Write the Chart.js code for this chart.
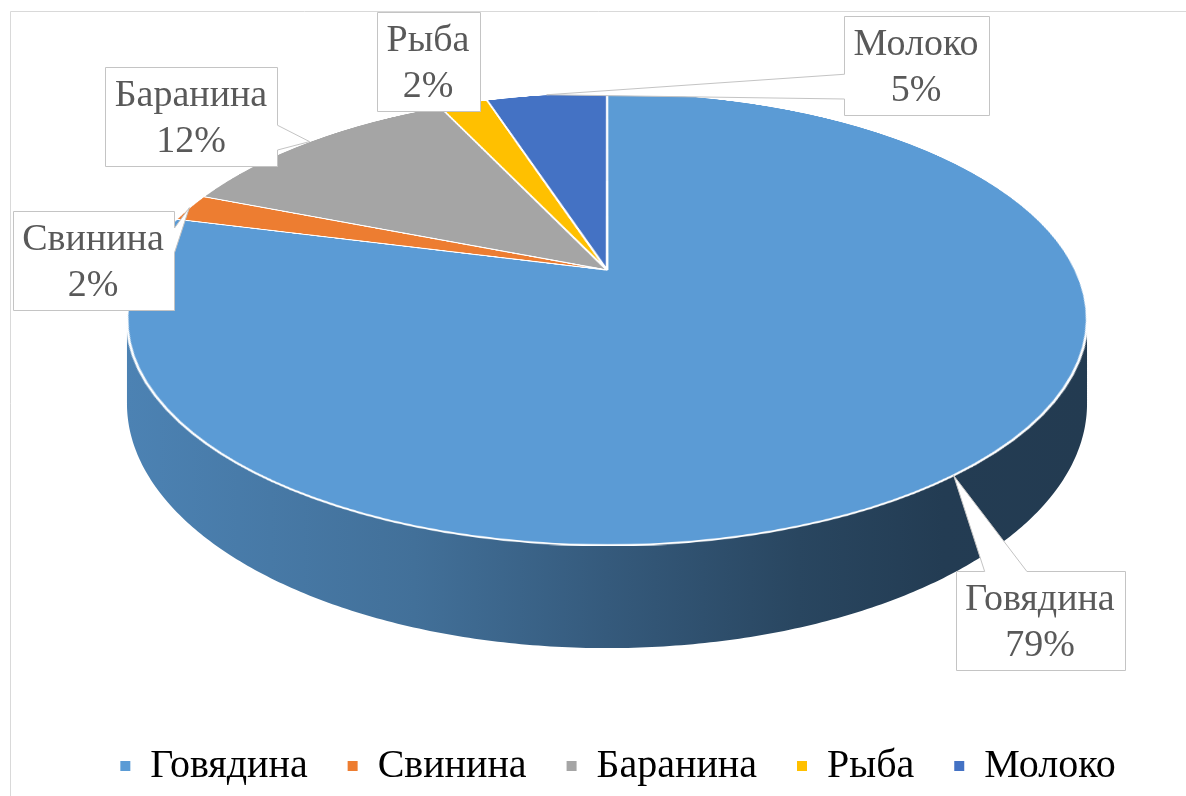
<!DOCTYPE html>
<html>
<head>
<meta charset="utf-8">
<script src="https://cdn.jsdelivr.net/npm/chart.js@4.4.0/dist/chart.umd.min.js"></script>
<style>
  html, body { margin: 0; padding: 0; background: #fff; }
  canvas { display: block; }
</style>
</head>
<body>
<canvas id="meatPie" width="1186" height="796"></canvas>
<script>
// Shares of the product groups, %
const categories = ['Говядина', 'Свинина', 'Баранина', 'Рыба', 'Молоко'];
const shares = [79, 2, 12, 2, 5];
const sliceColors = ['#5B9BD5', '#ED7D31', '#A5A5A5', '#FFC000', '#4472C4'];

// How the flat pie is laid onto the tilted disc (screen px)
const disc = { cx: 607, cy: 270, rx: 468.6, ry: 215.4, tilt: 0.2169, depth: 80.7 };
// Centres of the callout boxes
const calloutCentres = [[1040, 620], [93, 260], [191, 116], [428, 61], [916, 65]];

const SERIF = "'Liberation Serif', 'Times New Roman', serif";
const TEXT_COLOR = '#595959';

function project(c, s) {
  const w = 1 - disc.tilt * s;
  return [disc.cx + disc.rx * c / w, disc.cy + disc.ry * s / w];
}

function shade(hex, f) {
  const n = parseInt(hex.slice(1), 16);
  const r = Math.round(((n >> 16) & 255) * f);
  const g = Math.round(((n >> 8) & 255) * f);
  const b = Math.round((n & 255) * f);
  return `rgb(${r},${g},${b})`;
}

// Side wall of the disc under the visible front edge
function drawWalls(ctx, arcs) {
  const t = disc.tilt;
  const a0 = Math.asin(t), a1 = Math.PI - Math.asin(t);
  const half = disc.rx / Math.sqrt(1 - t * t);
  arcs.forEach((arc, i) => {
    for (let k = -1; k <= 1; k++) {
      const lo = Math.max(arc.startAngle + 2 * Math.PI * k, a0);
      const hi = Math.min(arc.endAngle + 2 * Math.PI * k, a1);
      if (hi <= lo) continue;
      const steps = Math.max(2, Math.ceil((hi - lo) / 0.01));
      ctx.beginPath();
      for (let j = 0; j <= steps; j++) {
        const a = lo + (hi - lo) * j / steps;
        const [x, y] = project(Math.cos(a), Math.sin(a));
        j === 0 ? ctx.moveTo(x, y) : ctx.lineTo(x, y);
      }
      for (let j = steps; j >= 0; j--) {
        const a = lo + (hi - lo) * j / steps;
        const [x, y] = project(Math.cos(a), Math.sin(a));
        const w = 1 - t * Math.sin(a);
        ctx.lineTo(x, y + disc.depth / w);
      }
      ctx.closePath();
      const grad = ctx.createLinearGradient(disc.cx - half, 0, disc.cx + half, 0);
      const base = sliceColors[i];
      grad.addColorStop(0, shade(base, 0.84));
      grad.addColorStop(0.3, shade(base, 0.72));
      grad.addColorStop(0.5, shade(base, 0.58));
      grad.addColorStop(0.7, shade(base, 0.45));
      grad.addColorStop(0.85, shade(base, 0.39));
      grad.addColorStop(1, shade(base, 0.38));
      ctx.fillStyle = grad;
      ctx.fill();
    }
  });
}

// Flat pie drawn by the arc elements, then squeezed row by row onto the disc
function drawTopFace(ctx, arcs) {
  const R = arcs[0].outerRadius;
  const size = Math.ceil(2 * R + 8);
  const off = document.createElement('canvas');
  off.width = size;
  off.height = size;
  const o = off.getContext('2d');
  o.translate(size / 2 - arcs[0].x, size / 2 - arcs[0].y);
  arcs.forEach(a => a.draw(o));

  const t = disc.tilt;
  const inv = y => { const q = (y - disc.cy) / disc.ry; return q / (1 + t * q); };
  const top = Math.floor(disc.cy - disc.ry / (1 + t));
  const bottom = Math.ceil(disc.cy + disc.ry / (1 - t));
  for (let y = top; y < bottom; y++) {
    const s0 = Math.max(-1, inv(y)), s1 = Math.min(1, inv(y + 1));
    if (s1 <= s0) continue;
    const v0 = size / 2 + s0 * R, v1 = size / 2 + s1 * R;
    const w = 1 - t * inv(y + 0.5);
    const k = (disc.rx / R) / w;
    ctx.drawImage(off, 0, v0, size, v1 - v0, disc.cx - size / 2 * k, y, size * k, 1);
  }
}

function calloutPath(ctx, x0, y0, x1, y1, ax, ay) {
  const w = x1 - x0, h = y1 - y0, mx = (x0 + x1) / 2, my = (y0 + y1) / 2;
  let side = null;
  if (!(ax >= x0 && ax <= x1 && ay >= y0 && ay <= y1)) {
    const dx = (ax - mx) / w, dy = (ay - my) / h;
    side = Math.abs(dx) > Math.abs(dy) ? (dx > 0 ? 'right' : 'left') : (dy > 0 ? 'bottom' : 'top');
  }
  ctx.beginPath();
  ctx.moveTo(x0, y0);
  if (side === 'top') {
    const p = ax < mx ? [2, 5] : [7, 10];
    ctx.lineTo(x0 + w * p[0] / 12, y0); ctx.lineTo(ax, ay); ctx.lineTo(x0 + w * p[1] / 12, y0);
  }
  ctx.lineTo(x1, y0);
  if (side === 'right') {
    const p = ay < my ? [2, 5] : [7, 10];
    ctx.lineTo(x1, y0 + h * p[0] / 12); ctx.lineTo(ax, ay); ctx.lineTo(x1, y0 + h * p[1] / 12);
  }
  ctx.lineTo(x1, y1);
  if (side === 'bottom') {
    const p = ax > mx ? [10, 7] : [5, 2];
    ctx.lineTo(x0 + w * p[0] / 12, y1); ctx.lineTo(ax, ay); ctx.lineTo(x0 + w * p[1] / 12, y1);
  }
  ctx.lineTo(x0, y1);
  if (side === 'left') {
    const p = ay > my ? [10, 7] : [5, 2];
    ctx.lineTo(x0, y0 + h * p[0] / 12); ctx.lineTo(ax, ay); ctx.lineTo(x0, y0 + h * p[1] / 12);
  }
  ctx.closePath();
}

function drawCallouts(ctx, arcs) {
  const total = shares.reduce((a, b) => a + b, 0);
  ctx.save();
  ctx.font = `38px ${SERIF}`;
  arcs.forEach((arc, i) => {
    const mid = (arc.startAngle + arc.endAngle) / 2;
    const [ax, ay] = project(Math.cos(mid), Math.sin(mid));
    const pct = Math.round(shares[i] / total * 100) + '%';
    const tw = Math.max(ctx.measureText(categories[i]).width, ctx.measureText(pct).width);
    const [cx, cy] = calloutCentres[i];
    const bw = Math.round(tw + 20), bh = 99;
    const x0 = Math.round(cx - bw / 2) + 0.5, y0 = Math.round(cy - bh / 2) + 0.5;
    calloutPath(ctx, x0, y0, x0 + bw, y0 + bh, ax, ay);
    ctx.fillStyle = '#fff';
    ctx.fill();
    ctx.strokeStyle = '#c4c4c4';
    ctx.lineWidth = 1;
    ctx.stroke();
    ctx.fillStyle = TEXT_COLOR;
    ctx.textAlign = 'center';
    ctx.textBaseline = 'alphabetic';
    ctx.fillText(categories[i], cx, cy - 10);
    ctx.fillText(pct, cx, cy + 36);
  });
  ctx.restore();
}

const tiltedPie = {
  id: 'tiltedPie',
  beforeDraw(chart) {
    const ctx = chart.ctx;
    ctx.save();
    ctx.fillStyle = '#fff';
    ctx.fillRect(0, 0, chart.width, chart.height);
    ctx.strokeStyle = '#d9d9d9';
    ctx.lineWidth = 1;
    ctx.beginPath();
    ctx.moveTo(10.5, chart.height);
    ctx.lineTo(10.5, 11.5);
    ctx.lineTo(chart.width, 11.5);
    ctx.stroke();
    ctx.restore();
  },
  beforeDatasetsDraw(chart) {
    const arcs = chart.getDatasetMeta(0).data;
    const ctx = chart.ctx;
    ctx.save();
    drawWalls(ctx, arcs);
    drawTopFace(ctx, arcs);
    ctx.restore();
    return false;
  },
  afterDraw(chart) {
    drawCallouts(chart.ctx, chart.getDatasetMeta(0).data);
  }
};

new Chart(document.getElementById('meatPie'), {
  type: 'pie',
  data: {
    labels: categories,
    datasets: [{
      data: shares,
      backgroundColor: sliceColors,
      borderColor: '#ffffff',
      borderWidth: 2.5,
      radius: 480
    }]
  },
  options: {
    responsive: false,
    animation: false,
    events: [],
    layout: { padding: { left: 50 } },
    plugins: {
      tooltip: { enabled: false },
      legend: {
        position: 'bottom',
        maxHeight: 95,
        labels: {
          font: { family: SERIF, size: 40 },
          color: TEXT_COLOR,
          boxWidth: 10,
          boxHeight: 10,
          padding: 40,
          generateLabels: () => categories.map((name, i) => ({
            text: name,
            fillStyle: sliceColors[i],
            strokeStyle: sliceColors[i],
            lineWidth: 0,
            hidden: false,
            index: i
          }))
        }
      }
    }
  },
  plugins: [tiltedPie]
});
</script>
</body>
</html>
